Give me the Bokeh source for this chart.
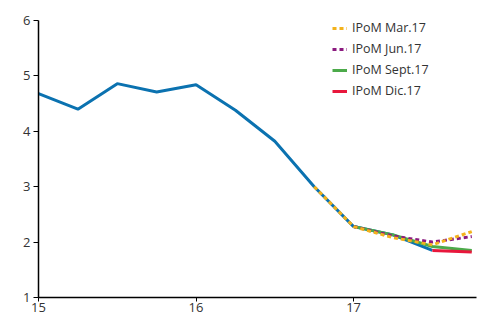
from bokeh.plotting import figure
from bokeh.models import Legend, LegendItem, FixedTicker, Range1d
from bokeh.embed import file_html
from bokeh.resources import INLINE

# Data (quarterly, decimal year: 15 = 2015)
actual_x = [15.0, 15.25, 15.5, 15.75, 16.0, 16.25, 16.5, 16.75, 17.0, 17.25, 17.5]
actual_y = [4.68, 4.40, 4.86, 4.71, 4.84, 4.38, 3.82, 3.00, 2.28, 2.13, 1.85]

mar_x = [16.75, 17.0, 17.25, 17.5, 17.75]
mar_y = [3.00, 2.28, 2.08, 1.95, 2.19]

jun_x = [17.0, 17.25, 17.5, 17.75]
jun_y = [2.28, 2.11, 2.00, 2.10]

sep_x = [17.0, 17.25, 17.5, 17.75]
sep_y = [2.28, 2.13, 1.92, 1.85]

dic_x = [17.5, 17.75]
dic_y = [1.85, 1.82]

x_ticks = [15, 16, 17]
y_ticks = [1, 2, 3, 4, 5, 6]
labels = ["IPoM Mar.17", "IPoM Jun.17", "IPoM Sept.17", "IPoM Dic.17"]

FONT = "Open Sans"

p = figure(width=477, height=314, output_backend="svg", toolbar_location=None,
           x_range=Range1d(15, 17.78), y_range=Range1d(1, 6),
           min_border_left=38, min_border_top=20, min_border_right=1, min_border_bottom=0)
p.outline_line_color = None
p.xgrid.visible = False
p.ygrid.visible = False

for ax in (p.xaxis[0], p.yaxis[0]):
    ax.axis_line_color = "black"
    ax.axis_line_width = 1.5
    ax.major_tick_line_color = "black"
    ax.major_tick_line_width = 1
    ax.major_tick_in = 0
    ax.major_tick_out = 5
    ax.minor_tick_line_color = None
    ax.major_label_text_font = FONT
    ax.major_label_text_font_size = "13px"
    ax.major_label_text_color = "#333333"
    ax.major_label_standoff = 3
p.xaxis.major_tick_out = 4
p.xaxis.major_label_standoff = 1

p.xaxis.ticker = FixedTicker(ticks=x_ticks)
p.yaxis.ticker = FixedTicker(ticks=y_ticks)

blue = p.line(actual_x, actual_y, line_color="#0b72b0", line_width=3)
g_sep = p.line(sep_x, sep_y, line_color="#4caa4a", line_width=3)
g_dic = p.line(dic_x, dic_y, line_color="#e8173c", line_width=3)
g_jun = p.line(jun_x, jun_y, line_color="#8b1a7f", line_width=3, line_dash="4 3")
g_mar = p.line(mar_x, mar_y, line_color="#f3b21b", line_width=3, line_dash="4 3")

legend = Legend(items=[
    LegendItem(label=labels[0], renderers=[g_mar]),
    LegendItem(label=labels[1], renderers=[g_jun]),
    LegendItem(label=labels[2], renderers=[g_sep]),
    LegendItem(label=labels[3], renderers=[g_dic]),
])
legend.border_line_color = None
legend.background_fill_alpha = 0
legend.label_text_font = FONT
legend.label_text_font_size = "12.5px"
legend.label_text_color = "#333333"
legend.glyph_width = 15
legend.glyph_height = 14
legend.label_standoff = 5
legend.spacing = 4
legend.padding = 0
legend.margin = 0
legend.label_height = 14
legend.location = (294, 198)
p.add_layout(legend)

open("out.html", "w").write(file_html(p, INLINE))
